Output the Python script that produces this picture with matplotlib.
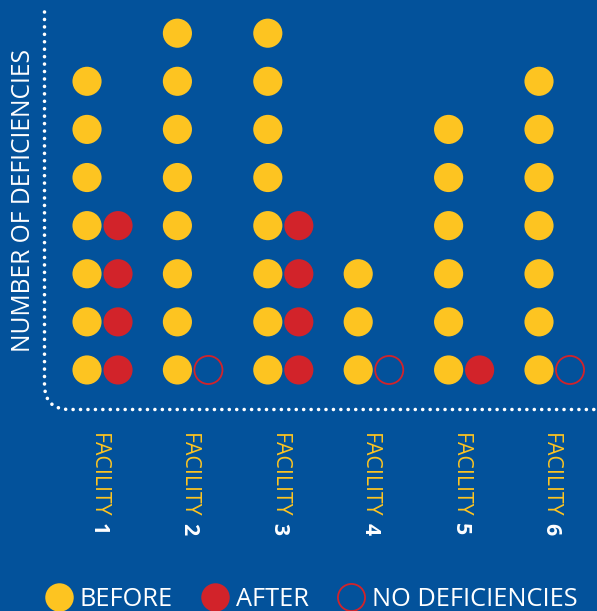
import matplotlib
matplotlib.use("Agg")
import matplotlib.pyplot as plt
from matplotlib.path import Path
from matplotlib.patches import PathPatch
from matplotlib.lines import Line2D

# ---- data ----
facilities = ["FACILITY 1", "FACILITY 2", "FACILITY 3", "FACILITY 4", "FACILITY 5", "FACILITY 6"]
before = [7, 8, 8, 3, 6, 7]
after = [4, 0, 4, 0, 1, 0]
legend_labels = ["BEFORE", "AFTER", "NO DEFICIENCIES"]
ylabel = "NUMBER OF DEFICIENCIES"

BG = "#03529b"
YEL = "#fdc421"
RED = "#d2232a"
FONT = "Open Sans"

W, H = 597, 611
fig = plt.figure(figsize=(W / 100, H / 100), dpi=100, facecolor=BG)
ax = fig.add_axes([0, 0, 1, 1])
ax.set_facecolor(BG)
ax.set_xlim(-1.134, 5.470)
ax.set_ylim(-4.01, 8.69)
ax.axis("off")

off = 0.1715
msize = 440
for i, (b, a) in enumerate(zip(before, after)):
    ys = list(range(1, b + 1))
    ax.scatter([i - off] * len(ys), ys, s=msize, color=YEL, edgecolors="none", zorder=3)
    if a > 0:
        ya = list(range(1, a + 1))
        ax.scatter([i + off] * len(ya), ya, s=msize, color=RED, edgecolors="none", zorder=3)
    else:
        ax.scatter([i + off], [1], s=msize * 0.93, facecolors="none", edgecolors=RED,
                   linewidths=1.3, zorder=3)

# dotted axis frame with rounded corner (axes-fraction coords)
x0 = 44.5 / W
ytop = 1 - 12 / H
ybot = 1 - 409.5 / H
r_x = 25 / W
r_y = 25 / H
verts = [(x0, ytop), (x0, ybot + r_y), (x0, ybot), (x0 + r_x, ybot), (1.0, ybot)]
codes = [Path.MOVETO, Path.LINETO, Path.CURVE3, Path.CURVE3, Path.LINETO]
patch = PathPatch(Path(verts, codes), transform=ax.transAxes, facecolor="none",
                  edgecolor="white", linewidth=2.6, linestyle=(0, (0.01, 2.05)),
                  capstyle="round", zorder=2)
ax.add_patch(patch)

# y label
fig.text(24 / W, 1 - 201 / H, ylabel, rotation=90, color="white", fontsize=17.7,
         family=FONT, ha="center", va="center")

# facility labels
fig.canvas.draw()
renderer = fig.canvas.get_renderer()
lx = -0.045
for i, name in enumerate(facilities):
    word, num = name.rsplit(" ", 1)
    t = ax.text(i + lx, -0.31, word, rotation=-90, color=YEL, fontsize=15.3, family=FONT,
                ha="center", va="top")
    bb = t.get_window_extent(renderer)
    ybottom_disp = bb.y0 - 5.5
    _, ydata = ax.transData.inverted().transform((0, ybottom_disp))
    ax.text(i + lx, ydata, num, rotation=-90, color="white", fontsize=15.3, family=FONT,
            fontweight="bold", ha="center", va="top")

# legend
handles = [
    Line2D([], [], marker="o", linestyle="none", markersize=20.5, markerfacecolor=YEL,
           markeredgecolor="none"),
    Line2D([], [], marker="o", linestyle="none", markersize=20.5, markerfacecolor=RED,
           markeredgecolor="none"),
    Line2D([], [], marker="o", linestyle="none", markersize=19.5, markerfacecolor="none",
           markeredgecolor=RED, markeredgewidth=1.3),
]
leg = fig.legend(handles, legend_labels, loc="center", bbox_to_anchor=(312 / W, 1 - 599 / H),
                 ncol=3, frameon=False, handlelength=1.0, handletextpad=0.33,
                 columnspacing=1.15, borderpad=0, borderaxespad=0,
                 prop={"family": FONT, "size": 18.3})
for txt in leg.get_texts():
    txt.set_color("white")

fig.savefig("out.png", dpi=100, facecolor=BG)
